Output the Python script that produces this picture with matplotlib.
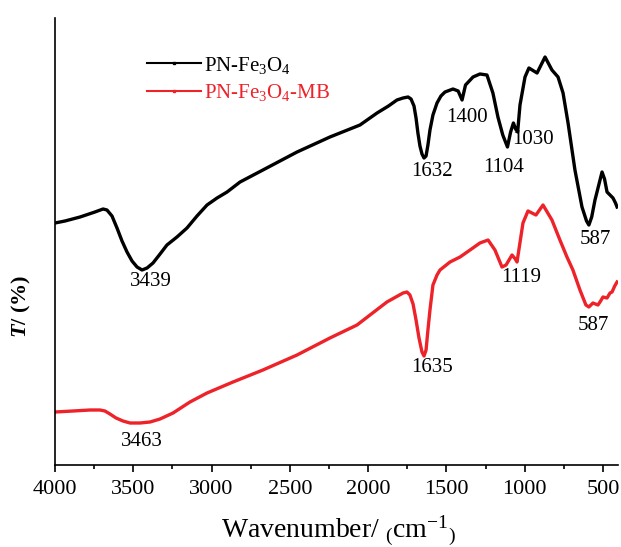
import matplotlib
matplotlib.use("Agg")
import matplotlib.pyplot as plt
from matplotlib.lines import Line2D
from matplotlib.ticker import MultipleLocator

plt.rcParams['font.family'] = ['Liberation Serif', 'DejaVu Serif']
plt.rcParams['mathtext.fontset'] = 'custom'
plt.rcParams['mathtext.rm'] = 'Liberation Serif'
plt.rcParams['mathtext.it'] = 'Liberation Serif:italic:bold'
plt.rcParams['mathtext.bf'] = 'Liberation Serif:bold'

# PN-Fe3O4 (black)
wn_black = [4000, 3936, 3840, 3745, 3693, 3668, 3636, 3604, 3572, 3540, 3508, 3476,
            3444, 3412, 3374, 3329, 3285, 3221, 3157, 3093, 3029, 2965, 2901,
            2818, 2672, 2454, 2244, 2052, 1943, 1870, 1816, 1777, 1745, 1726, 1707,
            1694, 1682, 1669, 1656, 1643, 1630, 1618, 1605, 1586, 1560, 1535, 1509,
            1458, 1425, 1400, 1378, 1330, 1286, 1241, 1203,
            1171, 1140, 1110, 1090, 1072, 1058, 1045, 1030, 998, 973, 921, 870,
            826, 787, 755, 723, 679, 634, 605, 590, 572, 551, 506, 490, 474, 455,
            436, 420, 410]
t_black = [242, 244, 248, 253, 256, 255, 249, 237, 224, 213, 204, 198,
           195, 197, 202, 211, 220, 228, 237, 249, 260, 267, 273,
           283, 295, 313, 328, 340, 352, 359, 365, 367, 368, 366, 359,
           347, 332, 319, 311, 307, 309, 320, 335, 350, 362, 369, 373,
           376, 374, 365, 380, 388, 391, 390, 372,
           348, 330, 318, 333, 342, 336, 333, 360, 388, 397, 392, 408,
           395, 388, 372, 342, 295, 258, 244, 240, 248, 265, 293, 286, 273, 270,
           267, 262, 258]

# PN-Fe3O4-MB (red)
wn_red = [4000, 3885, 3776, 3713, 3681, 3649, 3610, 3566, 3521, 3457, 3393, 3329,
          3246, 3138, 3029, 2863, 2672,
          2454, 2244, 2071, 1988, 1880, 1777, 1752, 1733, 1713, 1694, 1675, 1656,
          1643, 1630, 1618, 1605, 1586, 1560,
          1541, 1477, 1413, 1349, 1286, 1234, 1190, 1145, 1119, 1081, 1060, 1049,
          1011, 979, 928, 883, 826, 775, 730, 692, 647, 609, 590, 564, 532, 515,
          500, 474, 455, 442, 425, 410]
t_red = [53, 54, 55, 55, 54, 51, 47, 44, 42, 42, 43, 46,
         52, 63, 72, 83, 95,
         110, 127, 140, 150, 163, 172, 173, 170, 161, 145, 127, 113,
         109, 115, 135, 155, 180, 190,
         195, 203, 208, 215, 222, 225, 215, 198, 200, 210, 206, 203,
         242, 254, 250, 260, 245, 225, 208, 195, 175, 160, 158, 162, 160, 164,
         168, 167, 172, 173, 179, 183]

labels = ["PN-Fe$_3$O$_4$", "PN-Fe$_3$O$_4$-MB"]
colors = ["#000000", "#ee2229"]

# peak annotations: (text, wavenumber, T)
ann_text = ["3439", "1632", "1400", "1104", "1030", "587",
            "3463", "1635", "1119", "587"]
ann_wn = [3387, 1592, 1369, 1132, 947, 551,
          3444, 1592, 1024, 564]
ann_t = [183, 293, 348, 297, 326, 225,
         23, 98, 187, 140]

fig = plt.figure(figsize=(6.21, 5.47), dpi=100)
ax = fig.add_axes([55/621, 82/547, 563/621, 447/547])

ax.plot(wn_black, t_black, color=colors[0], lw=2.4, solid_joinstyle='round')
ax.plot(wn_red, t_red, color=colors[1], lw=2.4, solid_joinstyle='round')

ax.set_xlim(4000, 404)
ax.set_ylim(0, 447)

for s in ['top', 'right']:
    ax.spines[s].set_visible(False)
for s in ['left', 'bottom']:
    ax.spines[s].set_linewidth(1.2)

ax.set_yticks([])
ax.xaxis.set_major_locator(MultipleLocator(500))
ax.xaxis.set_minor_locator(MultipleLocator(250))
ax.tick_params(axis='x', which='major', direction='out', length=5, width=1.2,
               labelsize=16, pad=6)
ax.tick_params(axis='x', which='minor', direction='out', length=3, width=1.2)

for txt, w, t in zip(ann_text, ann_wn, ann_t):
    ax.text(w, t, txt, ha='center', va='center', fontsize=15)

handles = [Line2D([0], [0], color=colors[0], lw=1.5, marker='s', markersize=2),
           Line2D([0], [0], color=colors[1], lw=1.5, marker='s', markersize=2)]
leg = ax.legend(handles, labels, loc='upper left', bbox_to_anchor=(0.13, 0.96),
                frameon=False, fontsize=15, handlelength=2.6, handletextpad=0.15,
                labelspacing=0.3)
for text, c in zip(leg.get_texts(), colors):
    text.set_color(c)

fig.text(0.545, 0.03, r"Wavenumber/ ${}_{(}$cm$^{-1}{}_{)}$", ha='center', va='center',
         fontsize=20)
fig.text(0.035, 0.44, r"$T$/ (%)", rotation=90, ha='center', va='center',
         fontsize=16, fontweight='bold')

fig.savefig("out.png", dpi=100)
